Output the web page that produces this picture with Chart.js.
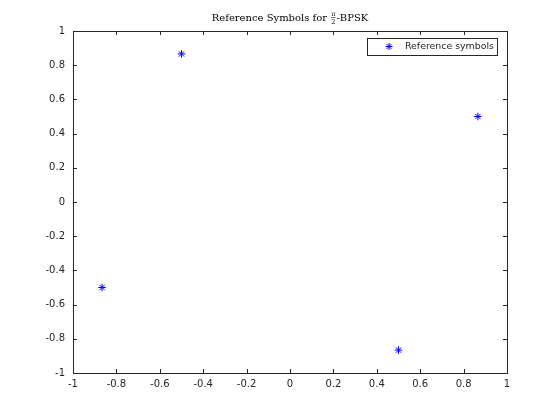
<!DOCTYPE html>
<html><head><meta charset="utf-8">
<script src="https://cdn.jsdelivr.net/npm/chart.js@4"></script>
<style>html,body{margin:0;padding:0;background:#fff}#c{display:block}</style>
</head><body>
<canvas id="c" width="560" height="420"></canvas>
<script>
const inPhase = [0.866, -0.5, -0.866, 0.5];
const quadrature = [0.5, 0.866, -0.5, -0.866];
const tickValues = [-1, -0.8, -0.6, -0.4, -0.2, 0, 0.2, 0.4, 0.6, 0.8, 1];
const seriesName = 'Reference symbols';
const titlePre = 'Reference Symbols for ';
const titleNum = 'π';
const titleDen = '2';
const titlePost = '-BPSK';

const axisColor = '#262626';

const boxPlugin = {
  id: 'box',
  afterDraw(chart) {
    const {ctx, chartArea: a, scales: {x, y}} = chart;
    ctx.save();
    ctx.strokeStyle = axisColor;
    ctx.lineWidth = 1;
    ctx.strokeRect(Math.round(a.left) + 0.5, Math.round(a.top) + 0.5, Math.round(a.right - a.left), Math.round(a.bottom - a.top));
    const tl = 4;
    ctx.beginPath();
    tickValues.forEach(v => {
      const px = Math.round(x.getPixelForValue(v)) + 0.5;
      ctx.moveTo(px, a.bottom); ctx.lineTo(px, a.bottom - tl);
      ctx.moveTo(px, a.top); ctx.lineTo(px, a.top + tl);
      const py = Math.round(y.getPixelForValue(v)) + 0.5;
      ctx.moveTo(a.left, py); ctx.lineTo(a.left + tl, py);
      ctx.moveTo(a.right, py); ctx.lineTo(a.right - tl, py);
    });
    ctx.stroke();

    // legend
    const lx = 367.5, ly = 38.5, lw = 130, lh = 17;
    ctx.fillStyle = '#fff';
    ctx.fillRect(lx, ly, lw, lh);
    ctx.strokeStyle = axisColor;
    ctx.strokeRect(lx, ly, lw, lh);
    const mx = 389, my = 46.5, r = 3.5;
    ctx.strokeStyle = '#0000ff';
    ctx.beginPath();
    ctx.moveTo(mx - r, my); ctx.lineTo(mx + r, my);
    ctx.moveTo(mx, my - r); ctx.lineTo(mx, my + r);
    const d = r * 0.7071;
    ctx.moveTo(mx - d, my - d); ctx.lineTo(mx + d, my + d);
    ctx.moveTo(mx - d, my + d); ctx.lineTo(mx + d, my - d);
    ctx.stroke();
    ctx.fillStyle = axisColor;
    ctx.font = '9.4px "DejaVu Sans"';
    ctx.textBaseline = 'middle';
    ctx.textAlign = 'left';
    ctx.fillText(seriesName, 405, 47);

    // title
    const cx = (a.left + a.right) / 2;
    const tf = '10px "DejaVu Serif"';
    const sf = '6.5px "DejaVu Serif"';
    ctx.font = tf;
    const w1 = ctx.measureText(titlePre).width;
    const w3 = ctx.measureText(titlePost).width;
    ctx.font = sf;
    const w2 = Math.max(ctx.measureText(titleNum).width, ctx.measureText(titleDen).width) + 2;
    const total = w1 + w2 + w3;
    let sx = cx - total / 2;
    const base = 21;
    ctx.fillStyle = '#000';
    ctx.textBaseline = 'alphabetic';
    ctx.font = tf;
    ctx.fillText(titlePre, sx, base);
    ctx.font = sf;
    ctx.textAlign = 'center';
    ctx.fillText(titleNum, sx + w1 + w2 / 2, base - 5.5);
    ctx.fillText(titleDen, sx + w1 + w2 / 2, base + 3);
    ctx.fillRect(sx + w1 + 1, base - 4, w2 - 2, 0.6);
    ctx.textAlign = 'left';
    ctx.font = tf;
    ctx.fillText(titlePost, sx + w1 + w2, base);
    ctx.restore();
  }
};

const fmt = v => {
  const r = Math.round(v * 10) / 10;
  return r === 0 ? '0' : String(r);
};

new Chart(document.getElementById('c'), {
  type: 'scatter',
  data: {
    datasets: [{
      label: seriesName,
      data: inPhase.map((v, i) => ({x: v, y: quadrature[i]})),
      pointStyle: 'star',
      radius: 3.8,
      borderColor: '#0000ff',
      backgroundColor: '#0000ff',
      borderWidth: 1,
      pointHoverRadius: 3.8
    }]
  },
  options: {
    responsive: false,
    animation: false,
    layout: {padding: {left: 0, right: 53, top: 31, bottom: 0}},
    plugins: {legend: {display: false}, title: {display: false}, tooltip: {enabled: false}},
    scales: {
      x: {
        type: 'linear', min: -1, max: 1,
        afterBuildTicks: s => { s.ticks = tickValues.map(v => ({value: v})); },
        afterFit: s => { s.height = 47; },
        grid: {display: false, drawTicks: false},
        border: {display: false},
        ticks: {color: axisColor, font: {family: 'DejaVu Sans', size: 10}, padding: 5, maxRotation: 0, autoSkip: false, callback: fmt}
      },
      y: {
        type: 'linear', min: -1, max: 1,
        afterBuildTicks: s => { s.ticks = tickValues.map(v => ({value: v})); },
        afterFit: s => { s.width = 73; },
        grid: {display: false, drawTicks: false},
        border: {display: false},
        ticks: {color: axisColor, font: {family: 'DejaVu Sans', size: 10}, padding: 8, autoSkip: false, callback: fmt}
      }
    }
  },
  plugins: [boxPlugin]
});
</script>
</body></html>
